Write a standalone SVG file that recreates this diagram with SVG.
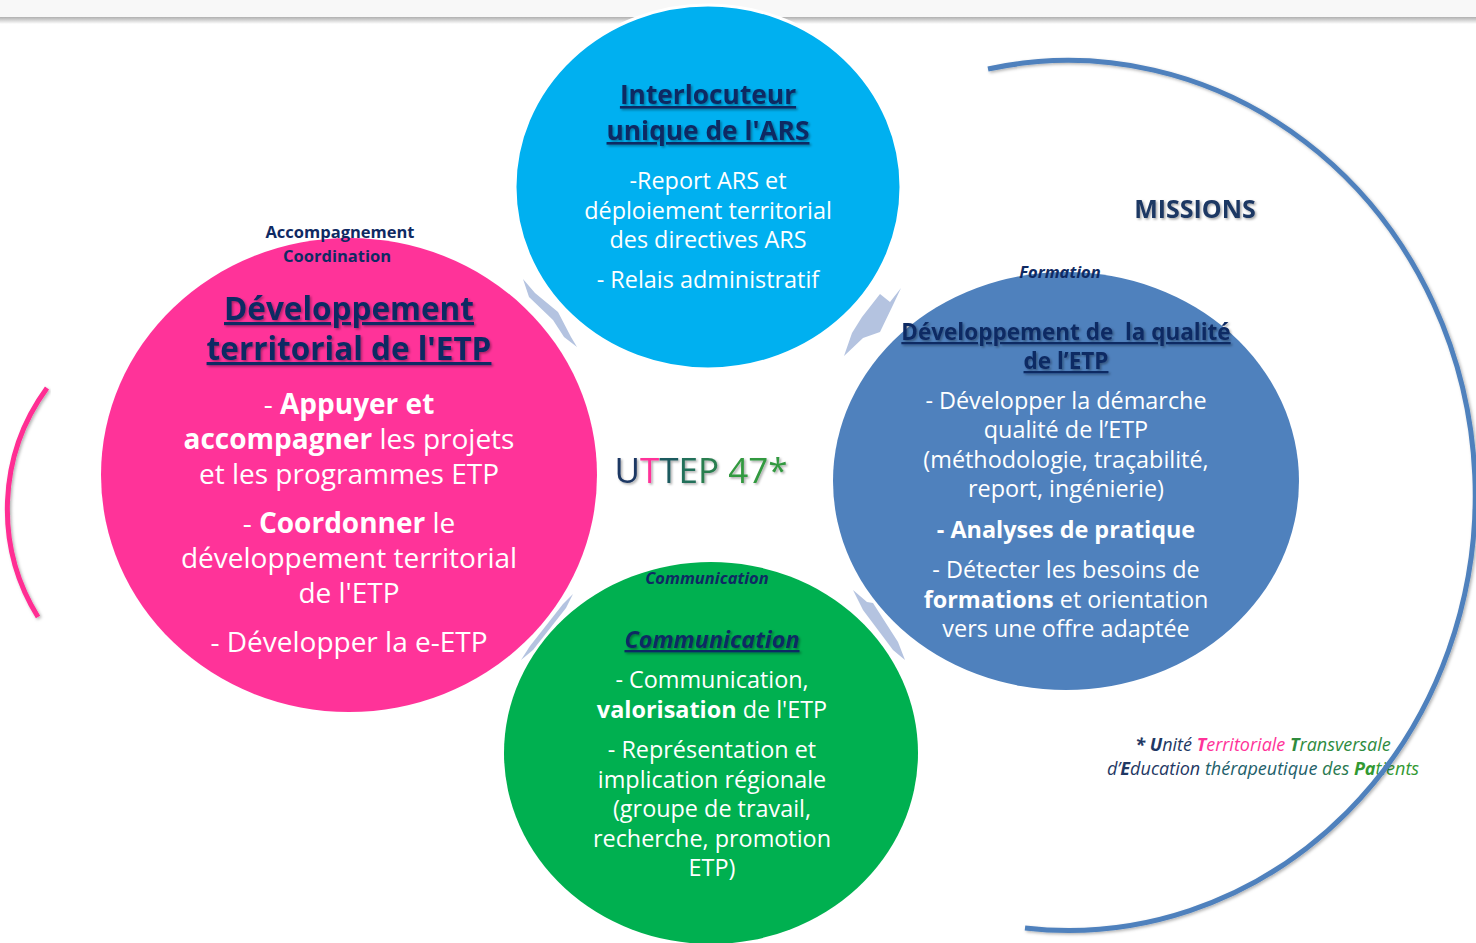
<svg xmlns="http://www.w3.org/2000/svg" width="1476" height="943" viewBox="0 0 1476 943">
<style>
.t{font-family:"Open Sans","Liberation Sans",sans-serif;text-anchor:middle}
.w{fill:#ffffff;font-size:23.4px}
.wb{fill:#ffffff;font-size:28px}
.h{fill:#0f2a63;font-weight:bold;text-decoration:underline}
.lab{fill:#0f2a63;font-weight:bold;font-size:16.5px}
.b{font-weight:bold}
.arrow{fill:#b4c3e0}
</style>
<defs>
<filter id="sh" x="-10%" y="-30%" width="120%" height="160%">
<feDropShadow dx="1.5" dy="1.5" stdDeviation="1" flood-color="#000" flood-opacity="0.35"/>
</filter>
<filter id="lsh" x="-10%" y="-10%" width="120%" height="120%">
<feDropShadow dx="1.5" dy="1.5" stdDeviation="1.5" flood-color="#000" flood-opacity="0.3"/>
</filter>
<linearGradient id="band" x1="0" y1="0" x2="0" y2="1">
<stop offset="0" stop-color="#b0b0b0"/>
<stop offset="1" stop-color="#ffffff"/>
</linearGradient>
</defs>
<rect x="0" y="0" width="1476" height="943" fill="#ffffff"/>
<rect x="0" y="0" width="1476" height="17" fill="#f8f8f8"/>
<rect x="0" y="17" width="1476" height="7" fill="url(#band)"/>

<g id="connectors">
<polygon class="arrow" points="523,279 535,293 558,312 571,337 577,347 564,337 553,320 529,297"/>
<polygon class="arrow" points="901,288 893,305 880,332 863,338 844,356 852,333 862,317 880,294 890,302"/>
<polygon class="arrow" points="573,594 566,608 533,650 521,660 530,646 563,604"/>
<polygon class="arrow" points="853,590 867,602 873,603 898,642 905,660 893,650 863,610"/>
</g>

<path d="M47,388 A205,205 0 0 0 38,617" fill="none" stroke="#ff2d93" stroke-width="5" filter="url(#lsh)"/>

<g id="node-ars">
<ellipse cx="708" cy="187" rx="193" ry="182" fill="#00b0f0" stroke="#ffffff" stroke-width="3"/>
<text class="t h" x="708" y="104" font-size="26.3" filter="url(#sh)">Interlocuteur</text>
<text class="t h" x="708" y="140" font-size="26.3" filter="url(#sh)">unique de l'ARS</text>
<text class="t w" x="708" y="189">-Report ARS et</text>
<text class="t w" x="708" y="219">déploiement territorial</text>
<text class="t w" x="708" y="248">des directives ARS</text>
<text class="t w" x="708" y="288">- Relais administratif</text>
</g>

<g id="node-territorial">
<ellipse cx="349" cy="475" rx="248" ry="237" fill="#ff3399"/>
<text class="t lab" x="340" y="238">Accompagnement</text>
<text class="t lab" x="337" y="262">Coordination</text>
<text class="t h" x="349" y="320" font-size="31.5" filter="url(#sh)">Développement</text>
<text class="t h" x="349" y="360" font-size="31.5" filter="url(#sh)">territorial de l'ETP</text>
<text class="t wb" x="349" y="414">- <tspan class="b">Appuyer et</tspan></text>
<text class="t wb" x="349" y="449"><tspan class="b">accompagner</tspan> les projets</text>
<text class="t wb" x="349" y="484">et les programmes ETP</text>
<text class="t wb" x="349" y="533">- <tspan class="b">Coordonner</tspan> le</text>
<text class="t wb" x="349" y="568">développement territorial</text>
<text class="t wb" x="349" y="603">de l'ETP</text>
<text class="t wb" x="349" y="652">- Développer la e-ETP</text>
</g>

<g id="node-qualite">
<ellipse cx="1066" cy="481" rx="233" ry="209" fill="#4f81bd"/>
<text class="t lab" x="1060" y="278" font-style="italic">Formation</text>
<text class="t h" x="1066" y="340" font-size="22.5" filter="url(#sh)" xml:space="preserve">Développement de  la qualité</text>
<text class="t h" x="1066" y="369" font-size="22.5" filter="url(#sh)">de l’ETP</text>
<text class="t w" x="1066" y="409">- Développer la démarche</text>
<text class="t w" x="1066" y="438">qualité de l’ETP</text>
<text class="t w" x="1066" y="468">(méthodologie, traçabilité,</text>
<text class="t w" x="1066" y="497">report, ingénierie)</text>
<text class="t w b" x="1066" y="538">- Analyses de pratique</text>
<text class="t w" x="1066" y="578">- Détecter les besoins de</text>
<text class="t w" x="1066" y="608"><tspan class="b">formations</tspan> et orientation</text>
<text class="t w" x="1066" y="637">vers une offre adaptée</text>
</g>

<g id="node-communication">
<ellipse cx="711" cy="753" rx="207" ry="191" fill="#00b050"/>
<text class="t lab" x="707" y="584" font-style="italic">Communication</text>
<text class="t h" x="712" y="648" font-size="23.4" font-style="italic" filter="url(#sh)">Communication</text>
<text class="t w" x="712" y="688">- Communication,</text>
<text class="t w" x="712" y="718"><tspan class="b">valorisation</tspan> de l'ETP</text>
<text class="t w" x="712" y="758">- Représentation et</text>
<text class="t w" x="712" y="788">implication régionale</text>
<text class="t w" x="712" y="817">(groupe de travail,</text>
<text class="t w" x="712" y="847">recherche, promotion</text>
<text class="t w" x="712" y="876">ETP)</text>
</g>

<g id="node-uttep">
<text class="t" x="701" y="483" font-size="35" filter="url(#sh)"><tspan fill="#1f3864">U</tspan><tspan fill="#ff3399">T</tspan><tspan fill="#1e5a5e">T</tspan><tspan fill="#23705a">E</tspan><tspan fill="#2a7e50">P</tspan><tspan fill="#339940"> 47*</tspan></text>
</g>

<g id="node-missions">
<text class="t" x="1195" y="218" font-size="25" font-weight="bold" fill="#1f3864" filter="url(#sh)">MISSIONS</text>
</g>

<g id="footnote">
<text class="t" x="1263" y="751" font-size="18" font-style="italic"><tspan fill="#1f3864" font-weight="bold">* U</tspan><tspan fill="#1f3864">nité </tspan><tspan fill="#ff3399" font-weight="bold">T</tspan><tspan fill="#ff3399">erritoriale </tspan><tspan fill="#2e8b3e" font-weight="bold">T</tspan><tspan fill="#2e8b3e">ransversale</tspan></text>
<text class="t" x="1263" y="775" font-size="18" font-style="italic"><tspan fill="#1f3864">d’</tspan><tspan fill="#1f3864" font-weight="bold">E</tspan><tspan fill="#1f3864">ducation </tspan><tspan fill="#22606a">thérapeutique </tspan><tspan fill="#2a7a50">des </tspan><tspan fill="#339933" font-weight="bold">Pa</tspan><tspan fill="#339933">tients</tspan></text>
</g>

<path d="M988,69 A407,435 0 1 1 1025,928" fill="none" stroke="#4f81bd" stroke-width="5" filter="url(#lsh)"/>
</svg>
